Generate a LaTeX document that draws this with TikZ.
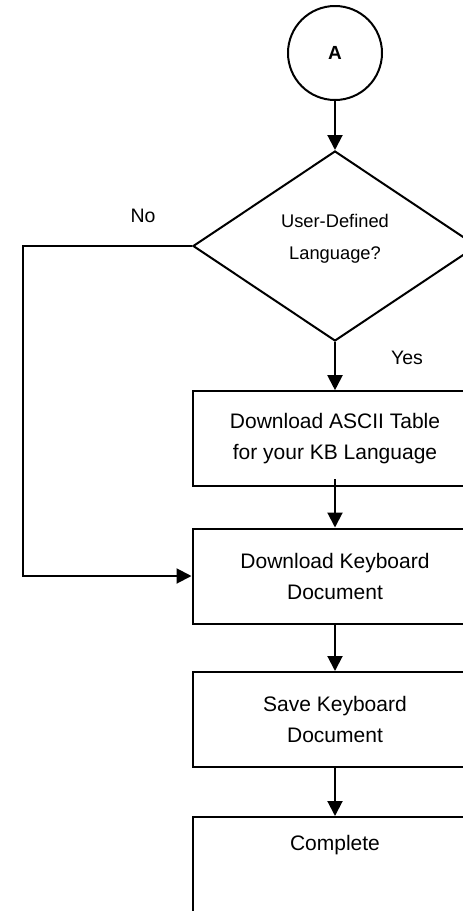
\documentclass[tikz,border=0pt]{standalone}
\usepackage{fontspec}
\setmainfont{Liberation Sans}
\usetikzlibrary{arrows.meta,shapes.geometric}
\begin{document}
\begin{tikzpicture}[x=1pt,y=-1pt,
  ln/.style={line width=2pt, draw=black},
  arr/.style={ln, -{Triangle[length=15pt,width=15pt]}},
  stepbox/.style={draw, line width=2pt, rectangle, minimum width=285pt, minimum height=95pt, inner sep=0pt, align=center, font=\fontsize{21}{31}\selectfont},
  lbl/.style={inner sep=0pt, font=\fontsize{19.5}{23}\selectfont}]
\useasboundingbox (0,0) rectangle (463,911);
\clip (0,0) rectangle (463,911);
\node[circle, draw, line width=2pt, minimum size=94pt, inner sep=0pt, font=\bfseries\fontsize{19}{22}\selectfont] (A) at (335,53) {A};
\node[diamond, draw, line width=2pt, minimum width=284pt, minimum height=190pt, inner sep=0pt] (dec) at (335,246) {};
\node[inner sep=0pt, align=center, font=\fontsize{18.3}{32}\selectfont] (dect) at (335,239) {User-Defined\\Language?};
\node[stepbox] (b1) at (335,438.7) {Download ASCII Table\\for your KB Language};
\node[stepbox] (b2) at (335,576) {Download Keyboard\\Document};
\node[stepbox] (b3) at (335,719.5) {Save Keyboard\\Document};
\node[stepbox, minimum height=150pt, anchor=north] (b4) at (335,816) {};
\node[inner sep=0pt, font=\fontsize{21}{31}\selectfont] (b4t) at (335,845) {Complete};
\node[lbl] (yes) at (407,358) {Yes};
\node[lbl] (no) at (143,215.5) {No};
\coordinate (c1) at (23,246);
\coordinate (c2) at (23,576);
\draw[arr] (A.south) -- (dec.north);
\draw[arr] (dec.south) -- (b1.north);
\draw[arr] ([yshift=8pt]b1.south) -- (b2.north);
\draw[arr] (b2.south) -- (b3.north);
\draw[arr] (b3.south) -- (b4.north);
\draw[arr] (dec.west) -- (c1) -- (c2) -- (b2.west);
\end{tikzpicture}
\end{document}
